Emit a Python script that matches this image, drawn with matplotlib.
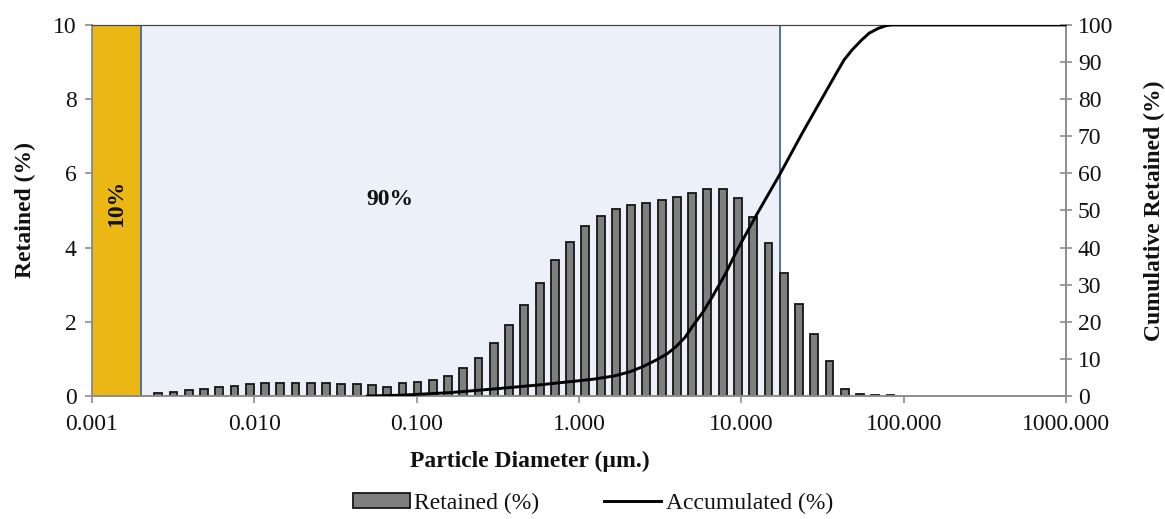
import numpy as np
import matplotlib
matplotlib.use("Agg")
import matplotlib.pyplot as plt
from matplotlib.patches import Patch
from matplotlib.lines import Line2D

plt.rcParams["font.family"] = ["Liberation Serif", "DejaVu Serif"]

# bin diameters (um) and retained percentage per bin
diameters = [0.00256, 0.00318, 0.00394, 0.00490, 0.00608, 0.00755, 0.00937,
             0.01164, 0.01445, 0.01795, 0.02228, 0.02767, 0.03436, 0.04266,
             0.05297, 0.06577, 0.08166, 0.1013, 0.1257, 0.1561, 0.1938,
             0.2406, 0.2988, 0.3710, 0.4606, 0.5719, 0.7101, 0.8814, 1.094,
             1.359, 1.687, 2.095, 2.600, 3.228, 4.009, 4.977, 6.179, 7.672,
             9.526, 11.83, 14.69, 18.23, 22.63, 28.10, 34.89, 43.31, 53.78,
             66.77, 82.90]
retained = [0.07, 0.12, 0.15, 0.18, 0.23, 0.27, 0.32, 0.35, 0.35, 0.35, 0.35,
            0.35, 0.33, 0.32, 0.30, 0.25, 0.35, 0.38, 0.44, 0.55, 0.75, 1.02,
            1.42, 1.90, 2.45, 3.04, 3.66, 4.16, 4.58, 4.86, 5.03, 5.15, 5.21,
            5.28, 5.36, 5.48, 5.58, 5.58, 5.33, 4.83, 4.13, 3.32, 2.48, 1.67,
            0.94, 0.19, 0.05, 0.04, 0.04]

# accumulated curve
cum_d = [0.0499, 0.0785, 0.159, 0.30, 0.571, 1.21, 1.65, 2.05, 2.5, 2.99,
         3.5, 3.96, 4.5, 4.99, 5.8, 6.64, 8.0, 9.45, 12.4, 17.4, 23.7, 30.2,
         38.5, 43.0, 48.2, 55.0, 61.4, 70.0, 78.0, 84.9, 1000.0]
cum_pct = [0.0, 0.2, 0.9, 1.9, 3.0, 4.5, 5.4, 6.5, 8.0, 9.7, 11.4, 13.3,
           15.8, 18.7, 22.6, 26.8, 33.0, 39.4, 48.8, 60.0, 70.8, 78.9, 87.0,
           90.6, 93.3, 95.9, 97.8, 99.1, 99.8, 100.0, 100.0]

d10_limit = 0.002
d90_limit = 17.4

axis_gray = "#8c8c8c"
text_col = "#111111"

fig = plt.figure(figsize=(11.65, 5.19), dpi=100)
ax = fig.add_axes([0.079, 0.237, 0.836, 0.715])
ax2 = ax.twinx()

ax.set_xscale("log")
ax.set_xlim(0.001, 1000)
ax.set_ylim(0, 10)
ax2.set_ylim(0, 100)

# shaded regions
ax.axvspan(0.001, d10_limit, ymin=0, ymax=1, facecolor="#EBB714",
           edgecolor="#4f72a0", linewidth=1.4, zorder=0)
ax.axvspan(d10_limit, d90_limit, ymin=0, ymax=1, facecolor="#ECF0F8",
           edgecolor="#4f72a0", linewidth=1.4, zorder=0)

# bars on log axis with constant width in log space
d = np.array(diameters)
half = 0.024
left = d * 10 ** (-half)
width = d * (10 ** half - 10 ** (-half))
ax.bar(left, retained, width=width, align="edge", color="#7f7f7f",
       edgecolor="#151515", linewidth=1.3, zorder=2)

ax2.plot(cum_d, cum_pct, color="black", linewidth=2.1, zorder=3,
         solid_joinstyle="round")

ax.text(0.00142, 5.2, "10%", rotation=90, ha="center", va="center",
        fontsize=17, fontweight="bold", color=text_col)
ax.text(0.068, 5.3, "90%", ha="center", va="center",
        fontsize=17, fontweight="bold", color=text_col)

# axes styling
for a in (ax, ax2):
    for s in a.spines.values():
        s.set_color(axis_gray)
        s.set_linewidth(1.2)
    a.spines["top"].set_color("#444444")
    a.spines["top"].set_linewidth(0.8)

ax.set_xticks([0.001, 0.01, 0.1, 1, 10, 100, 1000])
ax.set_xticklabels(["0.001", "0.010", "0.100", "1.000", "10.000",
                    "100.000", "1000.000"])
ax.xaxis.set_minor_locator(matplotlib.ticker.NullLocator())
ax.set_yticks([0, 2, 4, 6, 8, 10])
ax2.set_yticks(range(0, 101, 10))

ax.tick_params(axis="both", labelsize=17, colors=axis_gray,
               labelcolor=text_col, length=5, width=1.2, direction="out")
ax.tick_params(axis="x", pad=8)
ax.tick_params(axis="y", pad=6)
ax2.tick_params(axis="y", labelsize=17, colors=axis_gray, labelcolor=text_col,
                length=9, width=1.2, direction="inout", pad=4)

ax.set_ylabel("Retained (%)", fontsize=17, fontweight="bold", color=text_col,
              labelpad=12)
ax2.set_ylabel("Cumulative Retained (%)", fontsize=17, fontweight="bold",
               color=text_col, labelpad=22)
fig.text(530 / 1165, 1 - 461 / 519, "Particle Diameter (\u00b5m.)",
         ha="center", va="center", fontsize=17, fontweight="bold",
         color=text_col)

handles = [Patch(facecolor="#7f7f7f", edgecolor="#151515", linewidth=1.3),
           Line2D([0], [0], color="black", linewidth=2.1)]
fig.legend(handles, ["Retained (%)", "Accumulated (%)"], ncol=2,
           loc="center", bbox_to_anchor=(593 / 1165, 1 - 503 / 519),
           frameon=False, fontsize=17, handlelength=2.4, handleheight=0.6,
           handletextpad=0.2, columnspacing=2.75, labelcolor=text_col)

fig.savefig("out.png", dpi=100)
